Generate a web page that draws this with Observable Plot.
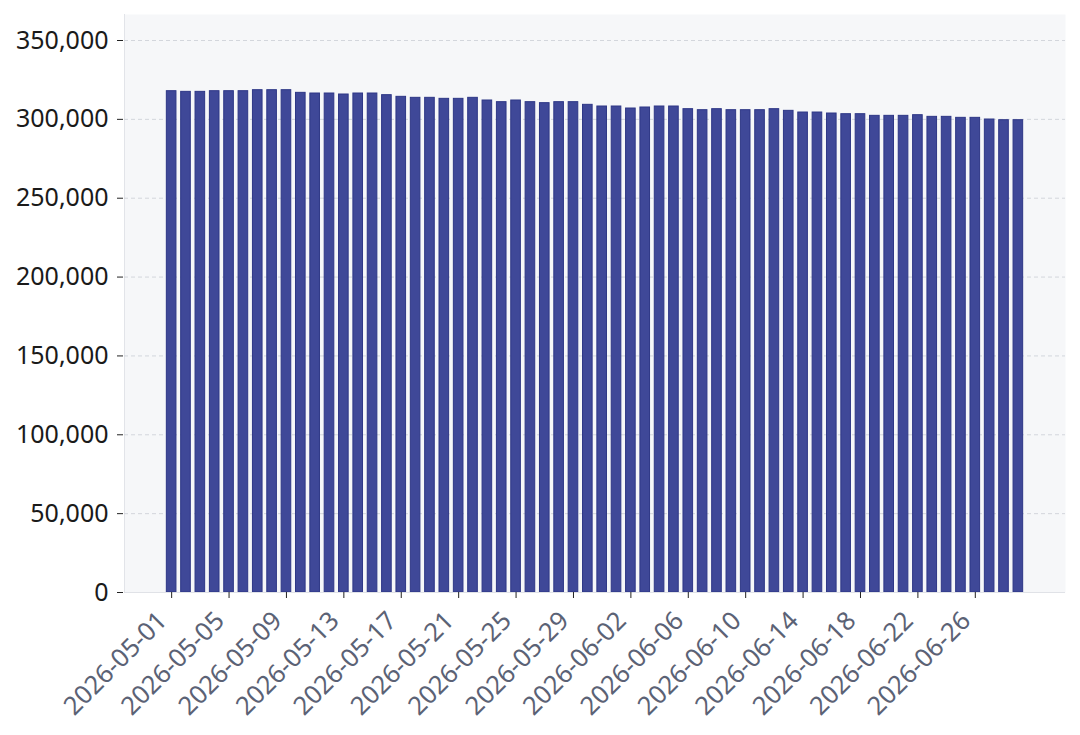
<!DOCTYPE html>
<html>
<head>
<meta charset="utf-8">
<script src="https://cdn.jsdelivr.net/npm/d3@7"></script>
<script src="https://cdn.jsdelivr.net/npm/@observablehq/plot@0.6"></script>
<style>
  html, body { margin: 0; padding: 0; background: #ffffff; }
  #chart { width: 1080px; height: 735px; }
  svg { font-family: "Noto Sans", sans-serif; }
</style>
</head>
<body>
<div id="chart"></div>
<script>
const dates = [
  "2026-05-01","2026-05-02","2026-05-03","2026-05-04","2026-05-05","2026-05-06","2026-05-07","2026-05-08","2026-05-09","2026-05-10",
  "2026-05-11","2026-05-12","2026-05-13","2026-05-14","2026-05-15","2026-05-16","2026-05-17","2026-05-18","2026-05-19","2026-05-20",
  "2026-05-21","2026-05-22","2026-05-23","2026-05-24","2026-05-25","2026-05-26","2026-05-27","2026-05-28","2026-05-29","2026-05-30",
  "2026-05-31","2026-06-01","2026-06-02","2026-06-03","2026-06-04","2026-06-05","2026-06-06","2026-06-07","2026-06-08","2026-06-09",
  "2026-06-10","2026-06-11","2026-06-12","2026-06-13","2026-06-14","2026-06-15","2026-06-16","2026-06-17","2026-06-18","2026-06-19",
  "2026-06-20","2026-06-21","2026-06-22","2026-06-23","2026-06-24","2026-06-25","2026-06-26","2026-06-27","2026-06-28","2026-06-29"
];
const values = [
  317860, 317440, 317440, 317860, 317860, 317860, 318500, 318500, 318500, 316810,
  316390, 316390, 315760, 316390, 316390, 315340, 314280, 313650, 313650, 313010,
  313010, 313650, 311960, 310900, 311960, 310900, 310270, 310900, 310900, 309210,
  308150, 308150, 306880, 307520, 308150, 308150, 306460, 305820, 306460, 305820,
  305820, 305820, 306460, 305400, 304340, 304340, 303710, 303280, 303280, 302230,
  302230, 302230, 302650, 301590, 301590, 300960, 300960, 299900, 299470, 299470
];
const xTicks = dates.filter((d, i) => i % 4 === 0);
const yTicks = [0, 50000, 100000, 150000, 200000, 250000, 300000, 350000];

const data = dates.map((d, i) => ({date: d, value: values[i]}));

const chart = Plot.plot({
  width: 1080,
  height: 735,
  marginLeft: 124,
  marginRight: 15,
  marginTop: 14,
  marginBottom: 143,
  style: {background: "#ffffff", fontFamily: "Noto Sans, sans-serif"},
  x: {type: "band", domain: dates, paddingInner: 0.33, paddingOuter: 2.95, round: false},
  y: {domain: [0, 350000], insetTop: 26},
  marks: [
    Plot.frame({fill: "#f6f7f9", stroke: null}),
    Plot.frame({anchor: "left", stroke: "#e2e4e9"}),
    Plot.gridY(yTicks, {stroke: "#d3d6dc", strokeOpacity: 1, strokeDasharray: "4,3", strokeWidth: 1}),
    Plot.barY(data, {x: "date", y: "value", fill: "#3f4898", stroke: "#2e3786", strokeWidth: 1}),
    Plot.ruleY([0], {stroke: "#e0e2e7", strokeWidth: 1}),
    Plot.axisY(yTicks, {
      tickFormat: d3.format(","),
      tickSize: 6,
      tickPadding: 9,
      dx: -1,
      fontSize: 25,
      fill: "#1a1a1a",
      stroke: "#222",
      label: null
    }),
    Plot.axisX(xTicks, {
      tickSize: 6,
      label: null,
      tickFormat: null,
      stroke: "#222"
    }),
    Plot.axisX(xTicks, {
      tickRotate: -45,
      tickSize: 0,
      tickPadding: 6,
      dx: -9,
      dy: 18,
      fontSize: 25.5,
      fill: "#5b6275",
      label: null
    })
  ]
});
document.getElementById("chart").appendChild(chart);
</script>
</body>
</html>
